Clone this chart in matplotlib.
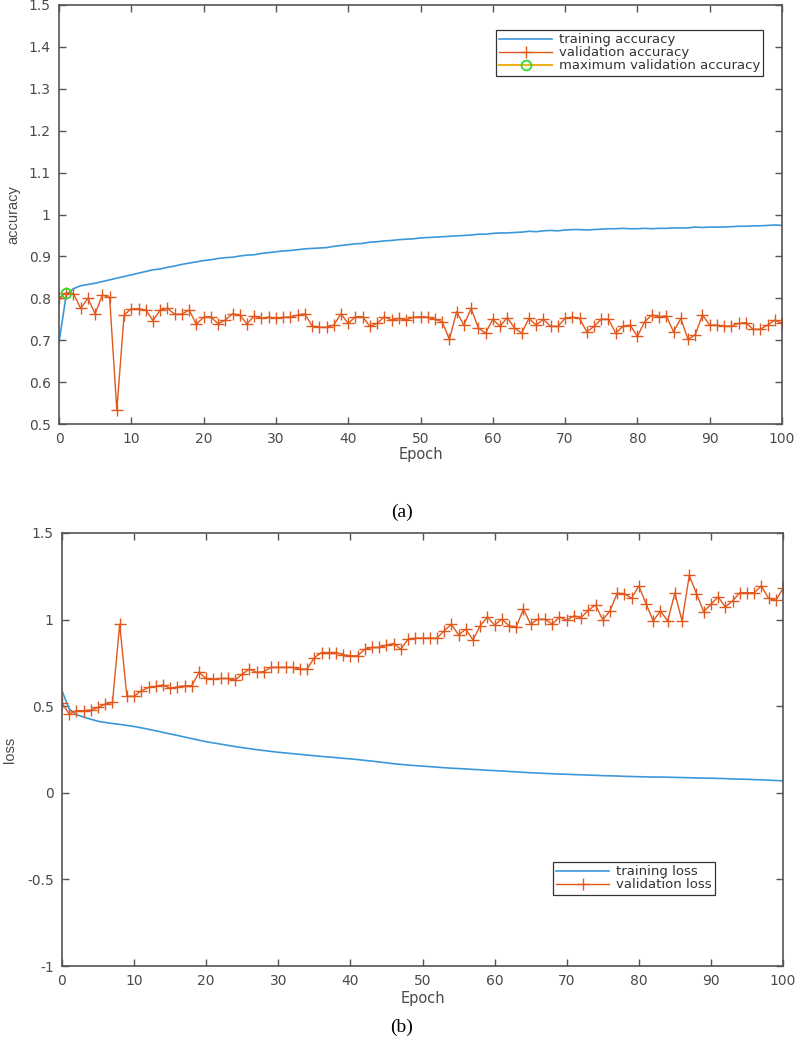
import numpy as np
import matplotlib
matplotlib.use('Agg')
import matplotlib.pyplot as plt

plt.rcParams['font.family'] = ['DejaVu Sans']

epochs = list(range(0, 101))

train_acc = [0.695, 0.808, 0.823, 0.830, 0.833, 0.836, 0.840, 0.844, 0.848, 0.852,
             0.856, 0.860, 0.864, 0.868, 0.870, 0.874, 0.877, 0.881, 0.884, 0.887,
             0.890, 0.892, 0.895, 0.897, 0.898, 0.901, 0.903, 0.904, 0.907, 0.909,
             0.911, 0.913, 0.914, 0.916, 0.918, 0.919, 0.920, 0.921, 0.924, 0.926,
             0.928, 0.930, 0.931, 0.934, 0.935, 0.937, 0.938, 0.940, 0.941, 0.942,
             0.944, 0.945, 0.946, 0.947, 0.948, 0.949, 0.950, 0.951, 0.953, 0.953,
             0.955, 0.956, 0.956, 0.957, 0.958, 0.960, 0.959, 0.961, 0.962, 0.961,
             0.963, 0.964, 0.964, 0.963, 0.964, 0.965, 0.966, 0.966, 0.967, 0.966,
             0.966, 0.967, 0.966, 0.967, 0.967, 0.968, 0.968, 0.968, 0.970, 0.969,
             0.970, 0.970, 0.970, 0.971, 0.972, 0.972, 0.973, 0.973, 0.974, 0.975,
             0.974]

val_acc = [0.800, 0.813, 0.811, 0.776, 0.800, 0.763, 0.808, 0.802, 0.533, 0.760,
           0.775, 0.775, 0.772, 0.747, 0.772, 0.776, 0.762, 0.762, 0.772, 0.738,
           0.755, 0.756, 0.739, 0.748, 0.763, 0.760, 0.739, 0.758, 0.752, 0.755,
           0.752, 0.755, 0.755, 0.760, 0.763, 0.734, 0.731, 0.731, 0.736, 0.763,
           0.740, 0.756, 0.756, 0.733, 0.740, 0.756, 0.748, 0.752, 0.748, 0.755,
           0.756, 0.755, 0.750, 0.744, 0.702, 0.768, 0.736, 0.776, 0.729, 0.717,
           0.750, 0.733, 0.754, 0.729, 0.717, 0.752, 0.736, 0.750, 0.733, 0.733,
           0.752, 0.755, 0.752, 0.720, 0.733, 0.750, 0.750, 0.717, 0.733, 0.736,
           0.709, 0.744, 0.760, 0.756, 0.758, 0.720, 0.752, 0.702, 0.713, 0.760,
           0.736, 0.736, 0.733, 0.734, 0.740, 0.742, 0.726, 0.726, 0.736, 0.748,
           0.740]

train_loss = [0.589, 0.484, 0.452, 0.437, 0.425, 0.413, 0.406, 0.400, 0.395, 0.389,
              0.383, 0.375, 0.367, 0.358, 0.349, 0.340, 0.331, 0.322, 0.313, 0.304,
              0.295, 0.288, 0.281, 0.274, 0.267, 0.261, 0.255, 0.249, 0.244, 0.239,
              0.234, 0.230, 0.226, 0.222, 0.218, 0.214, 0.210, 0.207, 0.203, 0.199,
              0.196, 0.192, 0.187, 0.183, 0.178, 0.173, 0.168, 0.164, 0.160, 0.157,
              0.154, 0.151, 0.148, 0.145, 0.142, 0.140, 0.138, 0.135, 0.133, 0.130,
              0.128, 0.126, 0.123, 0.121, 0.118, 0.116, 0.114, 0.112, 0.110, 0.108,
              0.107, 0.105, 0.104, 0.102, 0.101, 0.099, 0.098, 0.097, 0.095, 0.094,
              0.093, 0.092, 0.091, 0.091, 0.090, 0.089, 0.088, 0.087, 0.086, 0.085,
              0.084, 0.083, 0.082, 0.080, 0.079, 0.078, 0.076, 0.075, 0.073, 0.071,
              0.069]

val_loss = [0.518, 0.455, 0.474, 0.474, 0.478, 0.493, 0.512, 0.522, 0.973, 0.557,
            0.557, 0.589, 0.608, 0.614, 0.622, 0.603, 0.612, 0.618, 0.618, 0.695,
            0.660, 0.656, 0.660, 0.660, 0.651, 0.685, 0.714, 0.695, 0.700, 0.724,
            0.724, 0.724, 0.724, 0.714, 0.714, 0.781, 0.810, 0.810, 0.810, 0.797,
            0.791, 0.791, 0.829, 0.839, 0.839, 0.852, 0.862, 0.829, 0.887, 0.893,
            0.893, 0.893, 0.893, 0.935, 0.973, 0.912, 0.944, 0.883, 0.964, 1.015,
            0.969, 1.002, 0.964, 0.958, 1.060, 0.973, 1.002, 1.002, 0.973, 1.015,
            0.996, 1.021, 1.012, 1.054, 1.084, 0.998, 1.050, 1.152, 1.150, 1.123,
            1.194, 1.092, 0.992, 1.050, 0.992, 1.152, 0.992, 1.255, 1.150, 1.046,
            1.088, 1.131, 1.073, 1.107, 1.155, 1.155, 1.155, 1.194, 1.123, 1.111,
            1.180]

acc_ticks = [0.5, 0.6, 0.7, 0.8, 0.9, 1.0, 1.1, 1.2, 1.3, 1.4, 1.5]
acc_labels = ['0.5', '0.6', '0.7', '0.8', '0.9', '1', '1.1', '1.2', '1.3', '1.4', '1.5']
loss_ticks = [-1, -0.5, 0, 0.5, 1, 1.5]
loss_labels = ['-1', '-0.5', '0', '0.5', '1', '1.5']
epoch_ticks = [0, 10, 20, 30, 40, 50, 60, 70, 80, 90, 100]

BLUE = '#3b98d9'
ORANGE = '#e2571c'
AXCOL = '#555555'
TXTCOL = '#4a4a4a'

best = int(np.argmax(val_acc))

fig = plt.figure(figsize=(8, 10.4), dpi=100)


def style(ax):
    for s in ax.spines.values():
        s.set_color(AXCOL)
        s.set_linewidth(1.2)
    ax.tick_params(direction='in', length=5, width=1, color=AXCOL,
                   top=True, right=True, labelsize=10, labelcolor=TXTCOL, pad=6)
    ax.set_xlim(0, 100)
    ax.set_xticks(epoch_ticks)


def legend(ax, x, y):
    leg = ax.legend(loc='upper left', bbox_to_anchor=(x/800, 1-y/1040),
                    bbox_transform=fig.transFigure, fontsize=9.5, frameon=True,
                    fancybox=False, framealpha=1, edgecolor='#333333',
                    borderpad=0.25, labelspacing=0.0, handlelength=4.0,
                    handletextpad=0.5, borderaxespad=0)
    leg.get_frame().set_linewidth(0.9)
    for t in leg.get_texts():
        t.set_color('#333333')


###################ACCURACY######################
ax1 = fig.add_axes([59/800, 1-424/1040, 723/800, 419/1040])
style(ax1)
ax1.plot(epochs, train_acc, color=BLUE, lw=1.2, label='training accuracy')
ax1.plot(epochs, val_acc, color=ORANGE, lw=1.0, marker='+', ms=9, mew=1.0,
         label='validation accuracy')
ax1.plot([epochs[best]], [val_acc[best]], color='#EDB120', marker='o', ms=7,
         mfc='none', mec='#2edc2e', mew=1.3, label='maximum validation accuracy')
ax1.set_ylim(0.5, 1.5)
ax1.set_yticks(acc_ticks)
ax1.set_yticklabels(acc_labels)
ax1.set_xlabel('Epoch', fontsize=10.5, color=TXTCOL, va='center')
ax1.xaxis.set_label_coords(0.5, -31/419)
ax1.set_ylabel('accuracy', fontsize=10.5, color=TXTCOL, va='center',
               family='Liberation Sans')
ax1.yaxis.set_label_coords(-46/723, 0.5)
legend(ax1, 496, 30)

###################LOSS##########################
ax2 = fig.add_axes([62/800, 1-966/1040, 721/800, 433/1040])
style(ax2)
ax2.plot(epochs, train_loss, color=BLUE, lw=1.2, label='training loss')
ax2.plot(epochs, val_loss, color=ORANGE, lw=1.0, marker='+', ms=9, mew=1.0,
         label='validation loss')
ax2.set_ylim(-1, 1.5)
ax2.set_yticks(loss_ticks)
ax2.set_yticklabels(loss_labels)
ax2.set_xlabel('Epoch', fontsize=10.5, color=TXTCOL, va='center')
ax2.xaxis.set_label_coords(0.5, -32/433)
ax2.set_ylabel('loss', fontsize=10.5, color=TXTCOL, va='center',
               family='Liberation Sans')
ax2.yaxis.set_label_coords(-52/721, 0.5)
legend(ax2, 553, 862)

fig.text(402/800, 1-512/1040, '(a)', ha='center', va='center', fontsize=14,
         family='Liberation Serif', color='black')
fig.text(402/800, 1-1027/1040, '(b)', ha='center', va='center', fontsize=14,
         family='Liberation Serif', color='black')

fig.savefig('out.png', dpi=100)
